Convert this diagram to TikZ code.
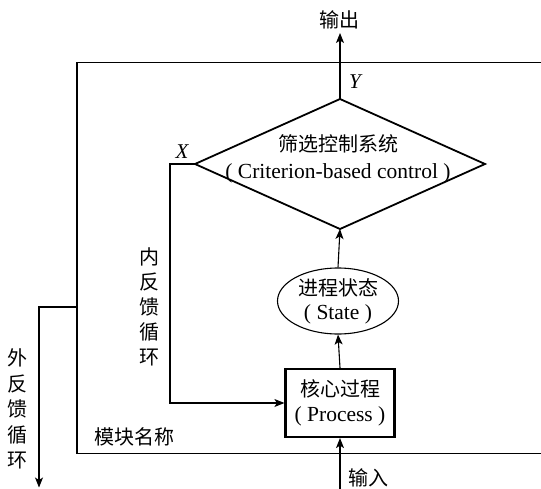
\documentclass[tikz,border=0pt]{standalone}
\usepackage{fontspec}
\setmainfont{Liberation Serif}
\newfontfamily\cjk{Noto Sans CJK SC}
\usetikzlibrary{arrows.meta,shapes.geometric}
\begin{document}
\begin{tikzpicture}[x=1pt,y=-1pt,
  conn/.style={line width=1.1pt},
  arr/.style={conn,-{Stealth[length=10pt,width=8pt,inset=2.5pt]}},
  lbl/.style={inner sep=0pt,align=center,font=\fontsize{21.5}{25}\selectfont},
  cjklbl/.style={inner sep=0pt,align=center,font=\cjk\fontsize{20}{25}\selectfont},
  ital/.style={inner sep=0pt,font=\itshape\fontsize{21}{25}\selectfont},
]
\useasboundingbox (0,0) rectangle (541,488);
% module frame
\coordinate (fTR) at (545,62.5);
\coordinate (fTL) at (77,62.5);
\coordinate (fBL) at (77,453.5);
\coordinate (fBR) at (545,453.5);
\draw[conn] (fTR) -- (fTL) -- (fBL) -- (fBR);
\coordinate (fb) at (77,307);
\coordinate (fbcorner) at (39,307);
\coordinate (fbend) at (39,487.5);

% criterion-based control (diamond)
\coordinate (dT) at (340,99);
\coordinate (dR) at (485,164);
\coordinate (dB) at (340,229);
\coordinate (dL) at (195,164);
\draw[line width=1.8pt,line join=miter] (dT) -- (dR) -- (dB) -- (dL) -- cycle;
\node[lbl,font=\fontsize{21.5}{27}\selectfont] (ctrl) at (338,159) {{\cjk\fontsize{20}{27}\selectfont 筛选控制系统}\\( Criterion-based control )};

% state (ellipse)
\node[ellipse,draw,line width=1.1pt,minimum width=121pt,minimum height=66pt,lbl,font=\fontsize{21.5}{24}\selectfont] (state) at (338,301) {{\cjk\fontsize{20}{24}\selectfont 进程状态}\\( State )};

% process (box)
\node[draw,line width=2.2pt,minimum width=109pt,minimum height=68pt,lbl] (proc) at (340,403) {{\cjk\fontsize{20}{25}\selectfont 核心过程}\\( Process )};

% output / input
\node[cjklbl] (outl) at (339,20) {输出};
\coordinate (outtip) at (340,33);
\node[cjklbl] (inl) at (368,478) {输入};
\coordinate (inbot) at (340,492);

% connectors
\draw[arr] (dT) -- (outtip);
\draw[arr] (state.north) -- (dB);
\draw[arr] (proc.north) -- (state.south);
\draw[arr] (inbot) -- (proc.south);
\draw[arr] (dL) -- ++(-25,0) |- (proc.west);
\draw[arr] (fb) -- (fbcorner) -- (fbend);

% labels
\node[ital] (xl) at (182,152) {X};
\node[ital] (yl) at (355,82) {Y};
\node[cjklbl] (inner) at (149,307) {内\\反\\馈\\循\\环};
\node[cjklbl,font=\cjk\fontsize{20}{25.5}\selectfont] (outer) at (17,409) {外\\反\\馈\\循\\环};
\node[cjklbl] (modname) at (134.5,437) {模块名称};
\end{tikzpicture}
\end{document}
